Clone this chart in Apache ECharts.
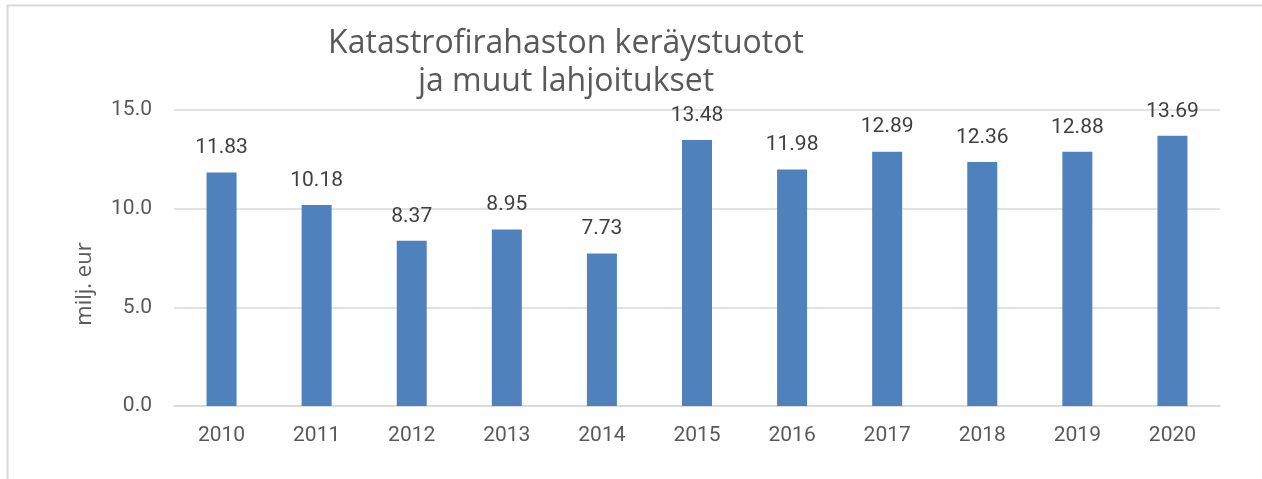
<!DOCTYPE html>
<html>
<head>
<meta charset="utf-8">
<script src="https://cdn.jsdelivr.net/npm/echarts@6/dist/echarts.min.js"></script>
<style>
  html, body { margin: 0; padding: 0; background: #fff; }
  #chartdiv { width: 1262px; height: 479px; }
</style>
</head>
<body>
<div id="chartdiv"></div>
<script>
var years = ['2010', '2011', '2012', '2013', '2014', '2015', '2016', '2017', '2018', '2019', '2020'];
var amounts = [11.83, 10.18, 8.37, 8.95, 7.73, 13.48, 11.98, 12.89, 12.36, 12.88, 13.69];
var titleLines = ['Katastrofirahaston keräystuotot', 'ja muut lahjoitukset'];
var yName = 'milj. eur';

var numFont = 'Roboto, sans-serif';
var textFont = '"Open Sans", sans-serif';

var options = {
    animation: false,
    textStyle: { fontFamily: numFont },
    // light frame round the chart (only top and left edges are inside the picture)
    graphic: [{
        type: 'rect',
        shape: { x: 7.5, y: 5.5, width: 1400, height: 600 },
        style: { fill: 'none', stroke: '#d9d9d9', lineWidth: 2 },
        silent: true
    }],
    title: {
        text: titleLines.join('\n'),
        left: 561,
        top: 20,
        textAlign: 'center',
        textStyle: {
            fontFamily: textFont,
            fontSize: 32,
            fontWeight: 'normal',
            color: '#595959',
            lineHeight: 38
        }
    },
    grid: {
        left: 174,
        right: 42,
        top: 110,
        bottom: 73
    },
    xAxis: {
        type: 'category',
        data: years,
        axisLine: { lineStyle: { color: '#d9d9d9', width: 1.5 } },
        axisTick: { show: false },
        axisLabel: {
            color: '#595959',
            fontSize: 21,
            margin: 19
        }
    },
    yAxis: {
        type: 'value',
        min: 0,
        max: 15,
        interval: 5,
        name: yName,
        nameLocation: 'middle',
        nameGap: 78,
        nameTextStyle: {
            fontFamily: textFont,
            color: '#595959',
            fontSize: 22,
            padding: [0, 52, 0, 0]
        },
        axisLine: { show: false },
        axisTick: { show: false },
        axisLabel: {
            color: '#595959',
            fontSize: 21,
            margin: 22,
            formatter: function (v) { return v.toFixed(1); }
        },
        splitLine: { lineStyle: { color: '#d9d9d9', width: 1.5 } }
    },
    series: [{
        name: 'Keräystuotot',
        type: 'bar',
        data: amounts,
        barWidth: 30,
        itemStyle: { color: '#4f81bd' },
        label: {
            show: true,
            position: 'top',
            distance: 14,
            color: '#404040',
            fontSize: 21,
            formatter: function (d) { return d.value.toFixed(2); }
        }
    }]
};

var chartDom = document.getElementById('chartdiv');
var plot = echarts.init(chartDom);
plot.setOption(options);
</script>
</body>
</html>
